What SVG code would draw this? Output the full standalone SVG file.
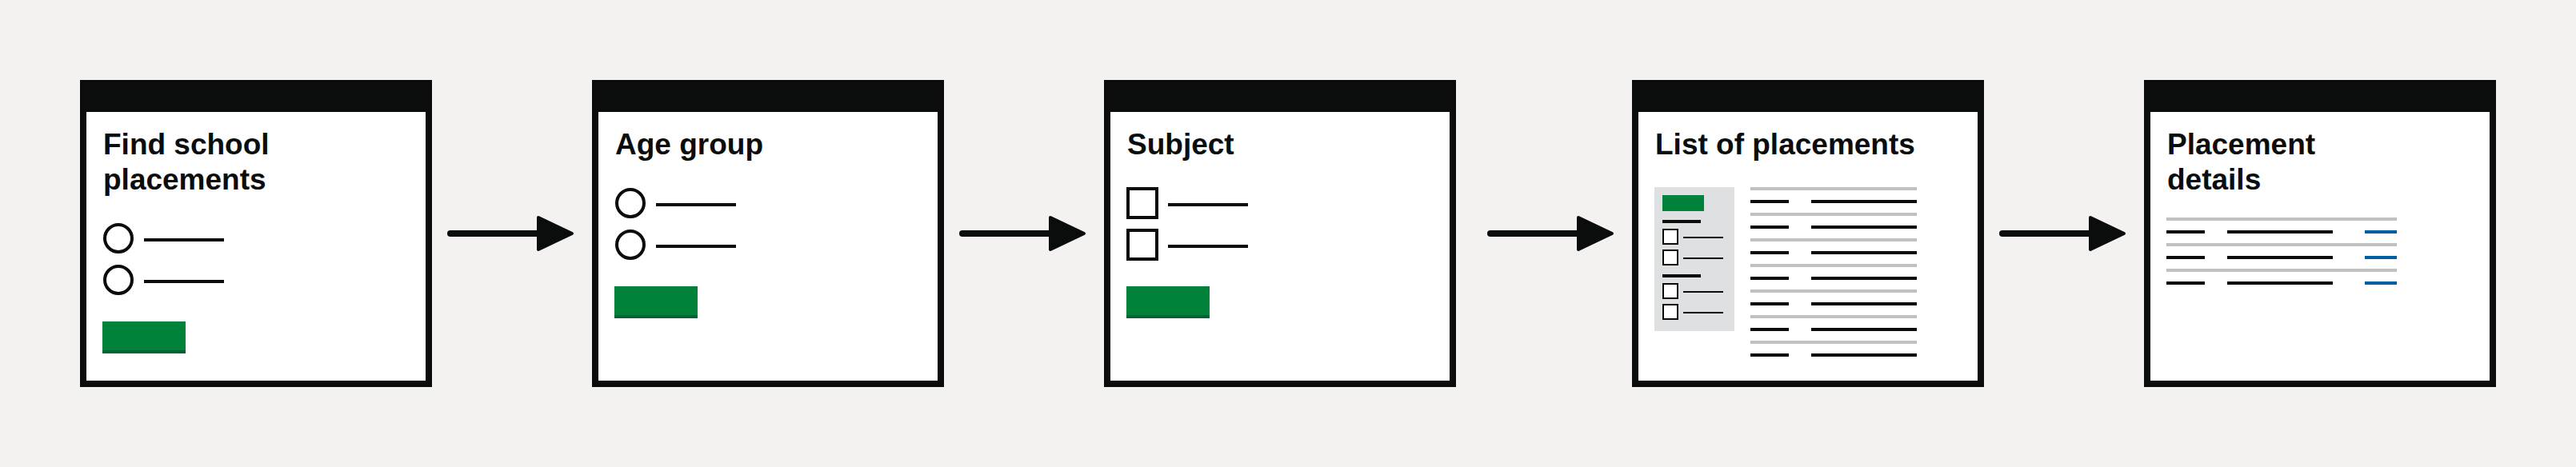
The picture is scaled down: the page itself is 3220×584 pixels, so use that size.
<svg xmlns="http://www.w3.org/2000/svg" width="3220" height="584" viewBox="0 0 3220 584">
<defs>
<style>
.frame{fill:#ffffff;stroke:#0b0c0c;stroke-width:8}
.bar{fill:#0b0c0c}
.title{font-family:"Liberation Sans",Arial,sans-serif;font-weight:700;font-size:37px;fill:#0b0c0c}
.radio{fill:#ffffff;stroke:#0b0c0c;stroke-width:4}
.cb{fill:#ffffff;stroke:#0b0c0c;stroke-width:4}
.cbs{fill:#ffffff;stroke:#0b0c0c;stroke-width:2}
.ln{stroke:#0b0c0c;stroke-width:4}
.lns{stroke:#0b0c0c;stroke-width:2}
.grey{stroke:#bfc1c3;stroke-width:4}
.blue{stroke:#005ea5;stroke-width:4}
.btn{fill:#00823b}
.btnsh{fill:#006435}
.side{fill:#dee0e2}
.arrline{stroke:#0b0c0c;stroke-width:8;stroke-linecap:round;fill:none}
.arrhead{fill:#0b0c0c;stroke:#0b0c0c;stroke-width:4;stroke-linejoin:round}
</style>
</defs>
<rect x="0" y="0" width="3220" height="584" fill="#f3f2f1"/>

<g id="node-find-school-placements" transform="translate(100,0)">
<rect class="frame" x="4" y="104" width="432" height="376"/>
<rect class="bar" x="0" y="100" width="440" height="40"/>
<text class="title" x="29" y="193">Find school</text>
<text class="title" x="29" y="237">placements</text>
<circle class="radio" cx="48" cy="298" r="17"/>
<circle class="radio" cx="48" cy="350" r="17"/>
<line class="ln" x1="80" y1="300" x2="180" y2="300"/>
<line class="ln" x1="80" y1="352" x2="180" y2="352"/>
<rect class="btnsh" x="28" y="402" width="104" height="40"/>
<rect class="btn" x="28" y="402" width="104" height="36"/>
</g>

<g id="node-age-group" transform="translate(740,0)">
<rect class="frame" x="4" y="104" width="432" height="376"/>
<rect class="bar" x="0" y="100" width="440" height="40"/>
<text class="title" x="29" y="193">Age group</text>
<circle class="radio" cx="48" cy="254" r="17"/>
<circle class="radio" cx="48" cy="306" r="17"/>
<line class="ln" x1="80" y1="256" x2="180" y2="256"/>
<line class="ln" x1="80" y1="308" x2="180" y2="308"/>
<rect class="btnsh" x="28" y="358" width="104" height="40"/>
<rect class="btn" x="28" y="358" width="104" height="36"/>
</g>

<g id="node-subject" transform="translate(1380,0)">
<rect class="frame" x="4" y="104" width="432" height="376"/>
<rect class="bar" x="0" y="100" width="440" height="40"/>
<text class="title" x="29" y="193">Subject</text>
<rect class="cb" x="30" y="236" width="36" height="36"/>
<rect class="cb" x="30" y="288" width="36" height="36"/>
<line class="ln" x1="80" y1="256" x2="180" y2="256"/>
<line class="ln" x1="80" y1="308" x2="180" y2="308"/>
<rect class="btnsh" x="28" y="358" width="104" height="40"/>
<rect class="btn" x="28" y="358" width="104" height="36"/>
</g>

<g id="node-list-of-placements" transform="translate(2040,0)">
<rect class="frame" x="4" y="104" width="432" height="376"/>
<rect class="bar" x="0" y="100" width="440" height="40"/>
<text class="title" x="29" y="193">List of placements</text>
<rect class="side" x="28" y="234" width="100" height="180"/>
<rect class="btn" x="38" y="244" width="52" height="20"/>
<line class="ln" x1="38" y1="277" x2="86" y2="277"/>
<rect class="cbs" x="39" y="287" width="18" height="18"/>
<line class="lns" x1="64" y1="297" x2="114" y2="297"/>
<rect class="cbs" x="39" y="313" width="18" height="18"/>
<line class="lns" x1="64" y1="323" x2="114" y2="323"/>
<line class="ln" x1="38" y1="345" x2="86" y2="345"/>
<rect class="cbs" x="39" y="355" width="18" height="18"/>
<line class="lns" x1="64" y1="365" x2="114" y2="365"/>
<rect class="cbs" x="39" y="381" width="18" height="18"/>
<line class="lns" x1="64" y1="391" x2="114" y2="391"/>
<line class="grey" x1="148" y1="236" x2="356" y2="236"/>
<line class="ln" x1="148" y1="252" x2="196" y2="252"/>
<line class="ln" x1="224" y1="252" x2="356" y2="252"/>
<line class="grey" x1="148" y1="268" x2="356" y2="268"/>
<line class="ln" x1="148" y1="284" x2="196" y2="284"/>
<line class="ln" x1="224" y1="284" x2="356" y2="284"/>
<line class="grey" x1="148" y1="300" x2="356" y2="300"/>
<line class="ln" x1="148" y1="316" x2="196" y2="316"/>
<line class="ln" x1="224" y1="316" x2="356" y2="316"/>
<line class="grey" x1="148" y1="332" x2="356" y2="332"/>
<line class="ln" x1="148" y1="348" x2="196" y2="348"/>
<line class="ln" x1="224" y1="348" x2="356" y2="348"/>
<line class="grey" x1="148" y1="364" x2="356" y2="364"/>
<line class="ln" x1="148" y1="380" x2="196" y2="380"/>
<line class="ln" x1="224" y1="380" x2="356" y2="380"/>
<line class="grey" x1="148" y1="396" x2="356" y2="396"/>
<line class="ln" x1="148" y1="412" x2="196" y2="412"/>
<line class="ln" x1="224" y1="412" x2="356" y2="412"/>
<line class="grey" x1="148" y1="428" x2="356" y2="428"/>
<line class="ln" x1="148" y1="444" x2="196" y2="444"/>
<line class="ln" x1="224" y1="444" x2="356" y2="444"/>
</g>

<g id="node-placement-details" transform="translate(2680,0)">
<rect class="frame" x="4" y="104" width="432" height="376"/>
<rect class="bar" x="0" y="100" width="440" height="40"/>
<text class="title" x="29" y="193">Placement</text>
<text class="title" x="29" y="237">details</text>
<line class="grey" x1="28" y1="274" x2="316" y2="274"/>
<line class="ln" x1="28" y1="290" x2="76" y2="290"/>
<line class="ln" x1="104" y1="290" x2="236" y2="290"/>
<line class="blue" x1="276" y1="290" x2="316" y2="290"/>
<line class="grey" x1="28" y1="306" x2="316" y2="306"/>
<line class="ln" x1="28" y1="322" x2="76" y2="322"/>
<line class="ln" x1="104" y1="322" x2="236" y2="322"/>
<line class="blue" x1="276" y1="322" x2="316" y2="322"/>
<line class="grey" x1="28" y1="338" x2="316" y2="338"/>
<line class="ln" x1="28" y1="354" x2="76" y2="354"/>
<line class="ln" x1="104" y1="354" x2="236" y2="354"/>
<line class="blue" x1="276" y1="354" x2="316" y2="354"/>
</g>

<g id="connectors">
<line class="arrline" x1="563" y1="292" x2="675" y2="292"/>
<polygon class="arrhead" points="673,272 715,292 673,312"/>
<line class="arrline" x1="1203" y1="292" x2="1315" y2="292"/>
<polygon class="arrhead" points="1313,272 1355,292 1313,312"/>
<line class="arrline" x1="1863" y1="292" x2="1975" y2="292"/>
<polygon class="arrhead" points="1973,272 2015,292 1973,312"/>
<line class="arrline" x1="2503" y1="292" x2="2615" y2="292"/>
<polygon class="arrhead" points="2613,272 2655,292 2613,312"/>
</g>
</svg>
